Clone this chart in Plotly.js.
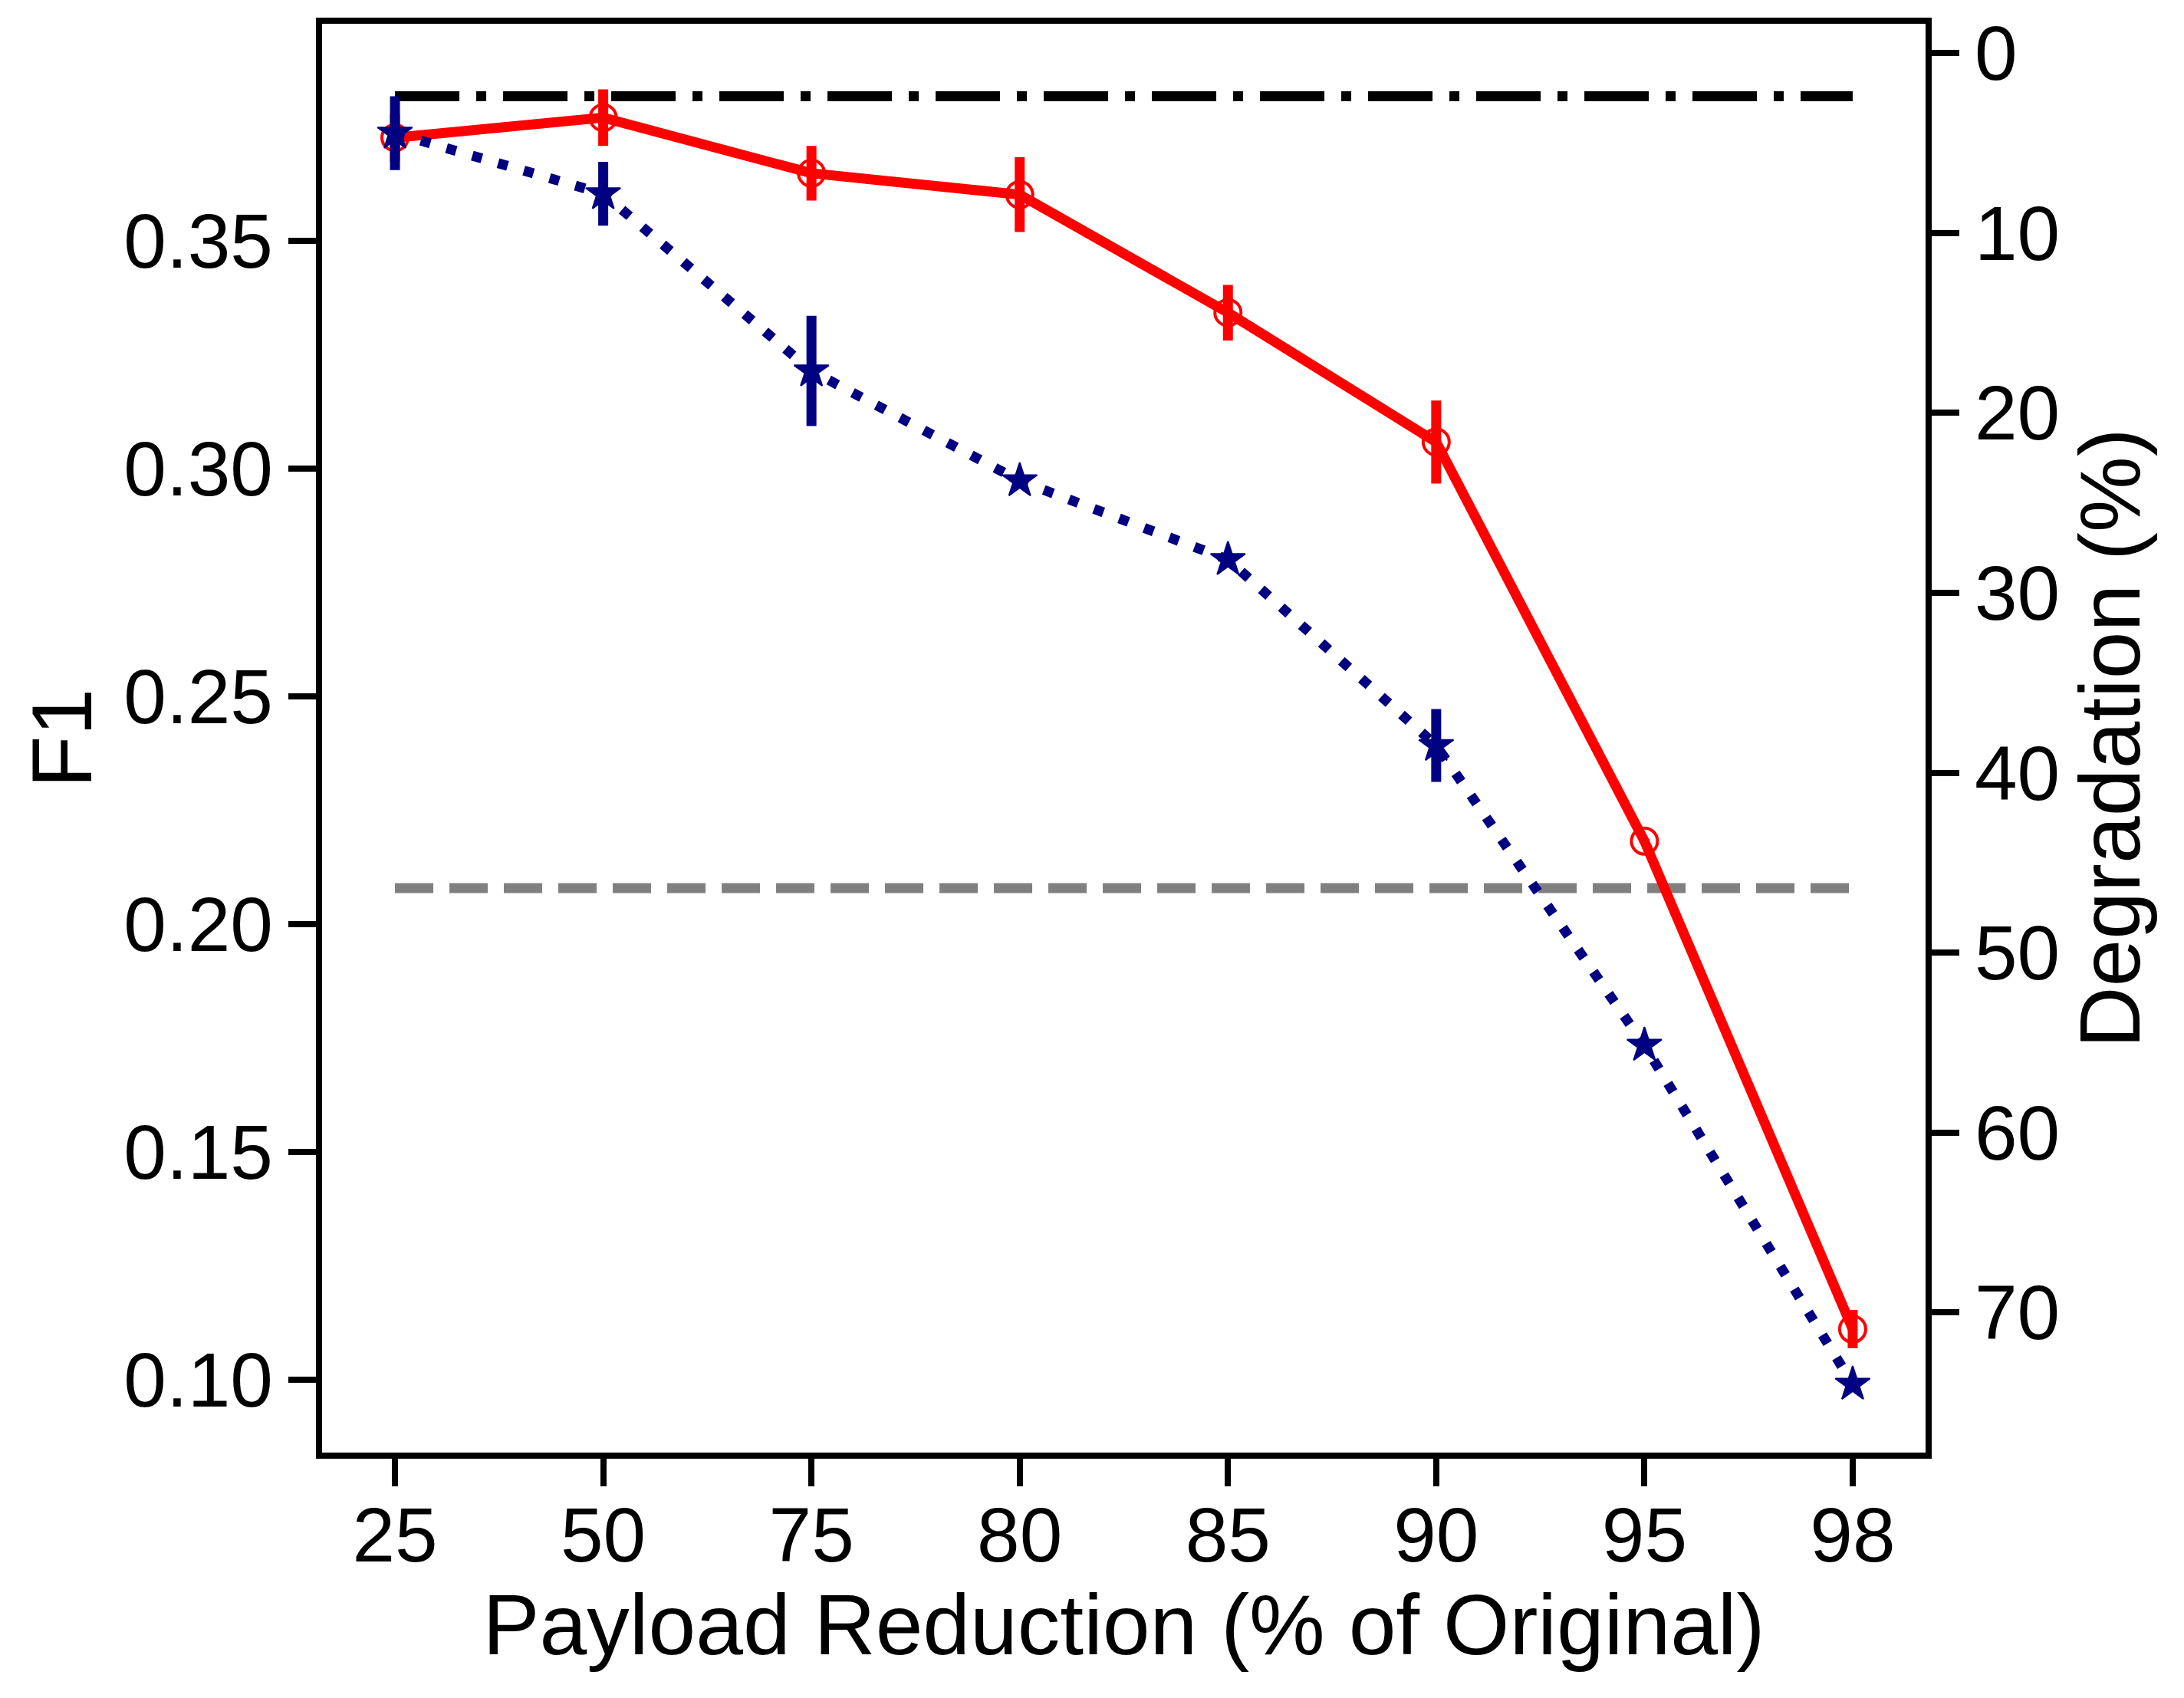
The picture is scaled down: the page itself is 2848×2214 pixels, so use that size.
<!DOCTYPE html>
<html>
<head>
<meta charset="utf-8">
<script src="https://cdn.plot.ly/plotly-3.0.1.min.js"></script>
<style>
  html, body { margin: 0; padding: 0; background: #fff; }
  #chart { width: 2848px; height: 2214px; }
</style>
</head>
<body>
<div id="chart"></div>
<script>
// payload reduction levels (x categories)
const reductions = ['25', '50', '75', '80', '85', '90', '95', '98']

// solid red series (open circles)
const redF1 = [0.3726, 0.3770, 0.3648, 0.3601, 0.3342, 0.3058, 0.2182, 0.1111]
const redErr = [0.0052, 0.0062, 0.0060, 0.0082, 0.0061, 0.0091, 0.0005, 0.0042]

// dotted navy series (stars)
const blueF1 = [0.3736, 0.3603, 0.3214, 0.2973, 0.2800, 0.2392, 0.1734, 0.0990]
const blueErr = [0.0081, 0.0070, 0.0121, 0.0010, 0.0012, 0.0080, 0.0015, 0.0008]

// reference levels
const fullPayloadF1 = 0.3817
const lowerRefF1 = 0.2079

const degradationTicks = [0, 10, 20, 30, 40, 50, 60, 70]

const font = 'Liberation Sans, Arial, sans-serif'
const tickSize = 100
const titleSize = 111
const first = reductions[0]
const last = reductions[reductions.length - 1]

const traces = [
  {
    x: [first, last],
    y: [fullPayloadF1, fullPayloadF1],
    mode: 'lines',
    line: { color: '#000000', width: 13, dash: '84px,22px,13px,22px' },
    hoverinfo: 'skip',
    showlegend: false
  },
  {
    x: [first, last],
    y: [lowerRefF1, lowerRefF1],
    mode: 'lines',
    line: { color: '#808080', width: 13, dash: '50px,21px' },
    hoverinfo: 'skip',
    showlegend: false
  },
  {
    x: reductions,
    y: redF1,
    mode: 'lines+markers',
    line: { color: '#ff0000', width: 13 },
    marker: { symbol: 'circle-open', size: 34, color: '#ff0000', line: { width: 4, color: '#ff0000' } },
    error_y: { type: 'data', array: redErr, visible: true, color: '#ff0000', thickness: 13, width: 0 },
    showlegend: false
  },
  {
    x: reductions,
    y: blueF1,
    mode: 'lines+markers',
    line: { color: '#000080', width: 13, dash: '13px,22px' },
    marker: { symbol: 'star', size: 34, color: '#000080', line: { width: 2, color: '#000080' } },
    error_y: { type: 'data', array: blueErr, visible: true, color: '#000080', thickness: 13, width: 0 },
    showlegend: false
  },
  {
    x: [],
    y: [],
    yaxis: 'y2',
    mode: 'lines',
    hoverinfo: 'skip',
    showlegend: false
  }
]

const layout = {
  width: 2848,
  height: 2214,
  margin: { l: 420, r: 337, t: 31, b: 320 },
  paper_bgcolor: '#ffffff',
  plot_bgcolor: '#ffffff',
  font: { family: font, color: '#000000', size: tickSize },
  xaxis: {
    type: 'category',
    categoryorder: 'array',
    categoryarray: reductions,
    range: [-0.35, 7.35],
    showgrid: false,
    zeroline: false,
    showline: true,
    mirror: true,
    linecolor: '#000000',
    linewidth: 8,
    ticks: 'outside',
    ticklen: 36,
    tickwidth: 8,
    tickcolor: '#000000',
    ticklabelstandoff: -22,
    tickfont: { family: font, size: tickSize, color: '#000000' },
    title: { text: 'Payload Reduction (% of Original)', font: { family: font, size: titleSize, color: '#000000' }, standoff: 5 }
  },
  yaxis: {
    range: [0.0840, 0.3976],
    tickvals: [0.10, 0.15, 0.20, 0.25, 0.30, 0.35],
    ticktext: ['0.10', '0.15', '0.20', '0.25', '0.30', '0.35'],
    showgrid: false,
    zeroline: false,
    showline: true,
    linecolor: '#000000',
    linewidth: 8,
    ticks: 'outside',
    ticklen: 36,
    tickwidth: 8,
    tickcolor: '#000000',
    tickfont: { family: font, size: tickSize, color: '#000000' },
    title: { text: 'F1', font: { family: font, size: titleSize, color: '#000000' }, standoff: 8 }
  },
  yaxis2: {
    overlaying: 'y',
    side: 'right',
    range: [77.8, -1.64],
    tickvals: degradationTicks,
    showgrid: false,
    zeroline: false,
    showline: true,
    linecolor: '#000000',
    linewidth: 8,
    ticks: 'outside',
    ticklen: 36,
    tickwidth: 8,
    tickcolor: '#000000',
    tickfont: { family: font, size: tickSize, color: '#000000' },
    title: { text: 'Degradation (%)', font: { family: font, size: titleSize, color: '#000000' }, standoff: 30 }
  }
}

Plotly.newPlot('chart', traces, layout, { displayModeBar: false, staticPlot: true })
</script>
</body>
</html>
